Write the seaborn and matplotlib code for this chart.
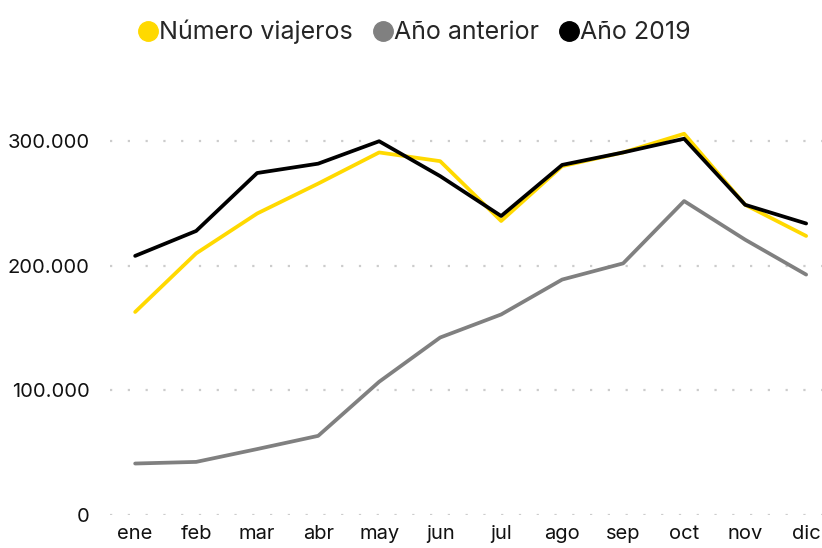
import pandas as pd
import matplotlib.pyplot as plt
import matplotlib.ticker as mt
from matplotlib.lines import Line2D
import seaborn as sns

meses = ['ene', 'feb', 'mar', 'abr', 'may', 'jun', 'jul', 'ago', 'sep', 'oct', 'nov', 'dic']
viajeros = [163000, 210000, 242000, 266000, 291000, 284000, 236000, 280000, 291000, 306000, 249000, 224000]
anterior = [41400, 42700, 53000, 63600, 107000, 142500, 161000, 189000, 202000, 252000, 221000, 193000]
anio_2019 = [208000, 228000, 274500, 282000, 300000, 272000, 240000, 281000, 291000, 302000, 249000, 234000]

series = ['Número viajeros', 'Año anterior', 'Año 2019']
colores = ['#FFD900', '#808080', '#000000']

df = pd.DataFrame({'mes': meses * 3,
                   'valor': viajeros + anterior + anio_2019,
                   'serie': [s for s in series for _ in meses]})
df['x'] = list(range(12)) * 3

sns.set_style('white')
plt.rcParams['font.family'] = ['Inter', 'DejaVu Sans']

fig = plt.figure(figsize=(8.22, 5.48), dpi=100)
ax = fig.add_axes([0.134, 0.060, 0.866, 0.796])

# amarillo debajo, negro encima
sns.lineplot(data=df, x='x', y='valor', hue='serie', hue_order=series,
             palette=colores, linewidth=2.7, legend=False, ax=ax)

ax.set_xlim(-0.41, 11.26)
ax.set_ylim(0, 350000)
ax.set_yticks([0, 100000, 200000, 300000])
ax.yaxis.set_major_formatter(mt.FuncFormatter(lambda v, p: f'{int(v):,}'.replace(',', '.')))
ax.set_xticks(range(12))
ax.set_xticklabels(meses)
ax.tick_params(axis='both', length=0, labelsize=14.5, colors='#111111')
ax.tick_params(axis='y', pad=15)
ax.tick_params(axis='x', pad=7)
ax.grid(axis='y', color='#cccccc', linestyle=(0, (1, 7)), linewidth=1.6)
ax.grid(axis='x', visible=False)
ax.set_xlabel('')
ax.set_ylabel('')
for s in ax.spines.values():
    s.set_visible(False)

handles = [Line2D([], [], marker='o', linestyle='', markersize=14, color=c) for c in colores]
fig.legend(handles, series, loc='center', bbox_to_anchor=(412 / 822, 1 - 32 / 548),
           ncol=3, frameon=False, fontsize=18, handletextpad=-0.15, columnspacing=0.6,
           handlelength=1.2)

plt.savefig('out.png', dpi=100)
